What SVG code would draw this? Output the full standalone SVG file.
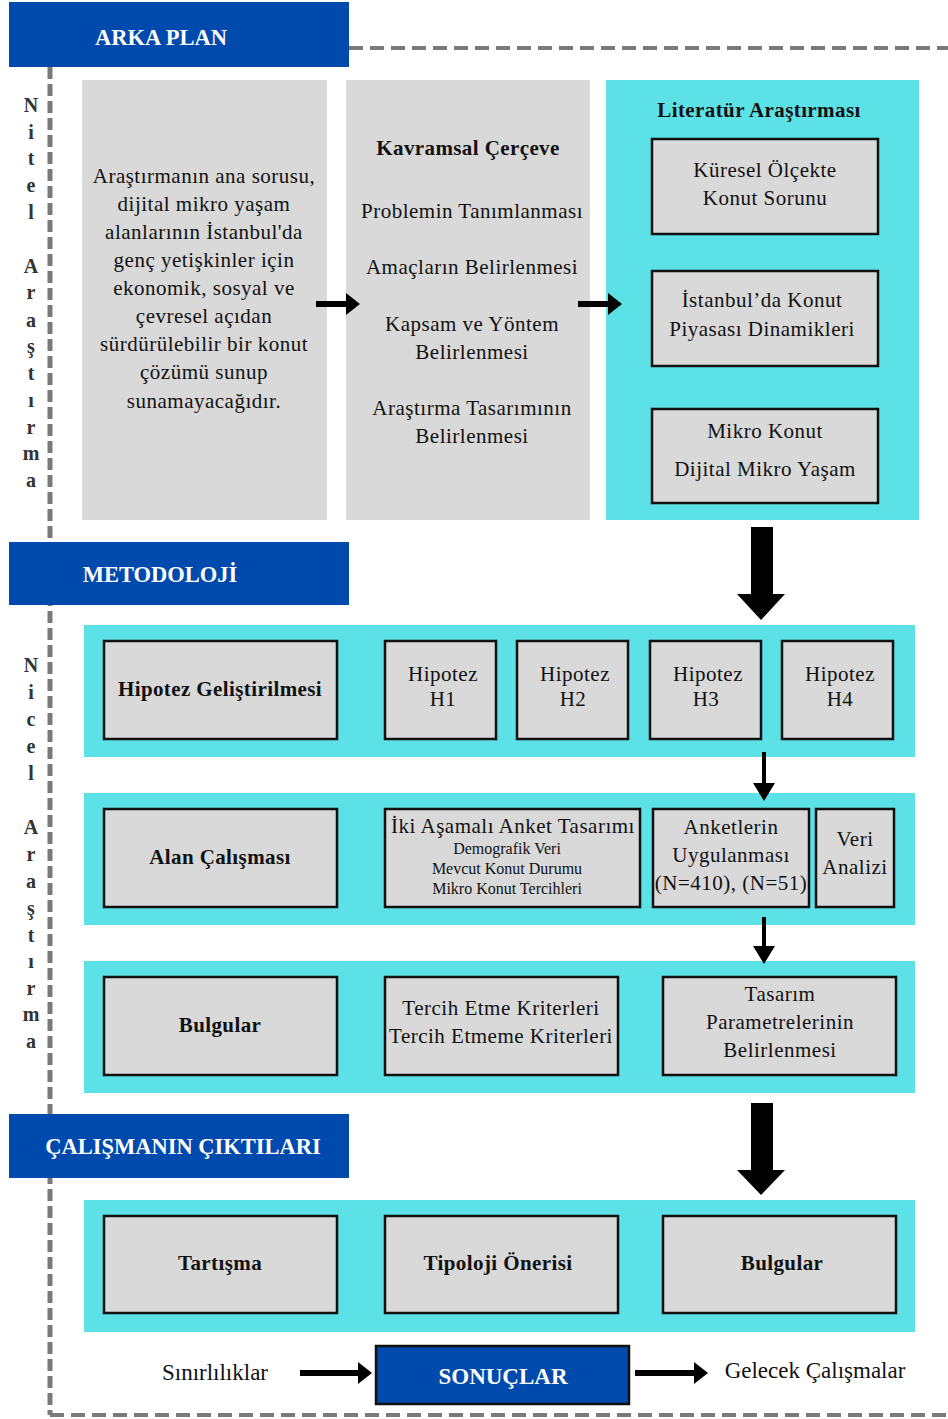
<svg xmlns="http://www.w3.org/2000/svg" width="948" height="1419" viewBox="0 0 948 1419">
<style>
text{font-family:"Liberation Serif","Times New Roman",serif;fill:#111;}
.t{font-size:21px;letter-spacing:0.5px;text-anchor:middle;dominant-baseline:central;}
.b{font-size:21px;font-weight:bold;letter-spacing:0.4px;text-anchor:middle;dominant-baseline:central;}
.s{font-size:16px;text-anchor:middle;dominant-baseline:central;}
.h{font-size:22.5px;font-weight:bold;fill:#fff;text-anchor:middle;dominant-baseline:central;}
.g{font-size:23px;text-anchor:middle;dominant-baseline:central;}
.v{font-size:20px;font-weight:bold;fill:#333;text-anchor:middle;dominant-baseline:central;}
.hdr{fill:#004aad;}
.gray{fill:#d9d9d9;}
.box{fill:#d9d9d9;stroke:#111;stroke-width:2.5;}
.cyan{fill:#5ce1e6;}
.dash{stroke:#7a7a7a;fill:none;}
.ar{fill:#000;}
</style>

<g id="frame">
<path class="dash" d="M349 48 H948" stroke-width="4" stroke-dasharray="14 7"/>
<path class="dash" d="M50 67 V1415" stroke-width="5" stroke-dasharray="12 5"/>
<path class="dash" d="M50 1415 H948" stroke-width="4" stroke-dasharray="14 7"/>
</g>

<g id="label-nitel">
<text class="v" x="31" y="105">N</text>
<text class="v" x="31" y="132">i</text>
<text class="v" x="31" y="158">t</text>
<text class="v" x="31" y="185">e</text>
<text class="v" x="31" y="212">l</text>
<text class="v" x="31" y="266">A</text>
<text class="v" x="31" y="292">r</text>
<text class="v" x="31" y="320">a</text>
<text class="v" x="31" y="346">ş</text>
<text class="v" x="31" y="373">t</text>
<text class="v" x="31" y="400">ı</text>
<text class="v" x="31" y="427">r</text>
<text class="v" x="31" y="453">m</text>
<text class="v" x="31" y="480">a</text>
</g>

<g id="label-nicel">
<text class="v" x="31" y="665">N</text>
<text class="v" x="31" y="692">i</text>
<text class="v" x="31" y="719">c</text>
<text class="v" x="31" y="746">e</text>
<text class="v" x="31" y="773">l</text>
<text class="v" x="31" y="827">A</text>
<text class="v" x="31" y="854">r</text>
<text class="v" x="31" y="881">a</text>
<text class="v" x="31" y="908">ş</text>
<text class="v" x="31" y="935">t</text>
<text class="v" x="31" y="961">ı</text>
<text class="v" x="31" y="988">r</text>
<text class="v" x="31" y="1014">m</text>
<text class="v" x="31" y="1041">a</text>
</g>

<g id="hdr-arka">
<rect class="hdr" x="9" y="2" width="340" height="65"/>
<text class="h" x="161" y="37">ARKA PLAN</text>
</g>
<g id="hdr-metodoloji">
<rect class="hdr" x="9" y="542" width="340" height="63"/>
<text class="h" x="160" y="574">METODOLOJİ</text>
</g>
<g id="hdr-ciktilar">
<rect class="hdr" x="9" y="1114" width="340" height="64"/>
<text class="h" x="183" y="1146">ÇALIŞMANIN ÇIKTILARI</text>
</g>

<g id="soru">
<rect class="gray" x="82" y="80" width="245" height="440"/>
<text class="t" x="204" y="176">Araştırmanın ana sorusu,</text>
<text class="t" x="204" y="204">dijital mikro yaşam</text>
<text class="t" x="204" y="232">alanlarının İstanbul'da</text>
<text class="t" x="204" y="260">genç yetişkinler için</text>
<text class="t" x="204" y="288">ekonomik, sosyal ve</text>
<text class="t" x="204" y="316">çevresel açıdan</text>
<text class="t" x="204" y="344">sürdürülebilir bir konut</text>
<text class="t" x="204" y="372">çözümü sunup</text>
<text class="t" x="204" y="401">sunamayacağıdır.</text>
</g>

<g id="kavramsal">
<rect class="gray" x="346" y="80" width="244" height="440"/>
<text class="b" x="468" y="148">Kavramsal Çerçeve</text>
<text class="t" x="472" y="211">Problemin Tanımlanması</text>
<text class="t" x="472" y="267">Amaçların Belirlenmesi</text>
<text class="t" x="472" y="324">Kapsam ve Yöntem</text>
<text class="t" x="472" y="352">Belirlenmesi</text>
<text class="t" x="472" y="408">Araştırma Tasarımının</text>
<text class="t" x="472" y="436">Belirlenmesi</text>
</g>

<g id="literatur">
<rect class="cyan" x="606" y="80" width="313" height="440"/>
<text class="b" x="759" y="110">Literatür Araştırması</text>
<rect class="box" x="652" y="139" width="226" height="95"/>
<text class="t" x="765" y="170">Küresel Ölçekte</text>
<text class="t" x="765" y="198">Konut Sorunu</text>
<rect class="box" x="652" y="271" width="226" height="95"/>
<text class="t" x="762" y="300">İstanbul’da Konut</text>
<text class="t" x="762" y="329">Piyasası Dinamikleri</text>
<rect class="box" x="652" y="409" width="226" height="94"/>
<text class="t" x="765" y="431">Mikro Konut</text>
<text class="t" x="765" y="469">Dijital Mikro Yaşam</text>
</g>

<g id="row-hipotez">
<rect class="cyan" x="84" y="625" width="831" height="132"/>
<rect class="box" x="104" y="641" width="233" height="98"/>
<text class="b" x="220" y="689">Hipotez Geliştirilmesi</text>
<rect class="box" x="385" y="641" width="111" height="98"/>
<text class="t" x="443" y="674">Hipotez</text>
<text class="t" x="443" y="699">H1</text>
<rect class="box" x="517" y="641" width="111" height="98"/>
<text class="t" x="575" y="674">Hipotez</text>
<text class="t" x="573" y="699">H2</text>
<rect class="box" x="650" y="641" width="111" height="98"/>
<text class="t" x="708" y="674">Hipotez</text>
<text class="t" x="706" y="699">H3</text>
<rect class="box" x="782" y="641" width="111" height="98"/>
<text class="t" x="840" y="674">Hipotez</text>
<text class="t" x="840" y="699">H4</text>
</g>

<g id="row-alan">
<rect class="cyan" x="84" y="793" width="831" height="132"/>
<rect class="box" x="104" y="809" width="233" height="98"/>
<text class="b" x="220" y="857">Alan Çalışması</text>
<rect class="box" x="385" y="809" width="255" height="98"/>
<text class="t" x="513" y="826">İki Aşamalı Anket Tasarımı</text>
<text class="s" x="507" y="848">Demografik Veri</text>
<text class="s" x="507" y="868">Mevcut Konut Durumu</text>
<text class="s" x="507" y="888">Mikro Konut Tercihleri</text>
<rect class="box" x="653" y="809" width="156" height="98"/>
<text class="t" x="731" y="827">Anketlerin</text>
<text class="t" x="731" y="855">Uygulanması</text>
<text class="t" x="731" y="883">(N=410), (N=51)</text>
<rect class="box" x="816" y="809" width="78" height="98"/>
<text class="t" x="855" y="839">Veri</text>
<text class="t" x="855" y="867">Analizi</text>
</g>

<g id="row-bulgular">
<rect class="cyan" x="84" y="961" width="831" height="132"/>
<rect class="box" x="104" y="977" width="233" height="98"/>
<text class="b" x="220" y="1025">Bulgular</text>
<rect class="box" x="385" y="977" width="233" height="98"/>
<text class="t" x="501" y="1008">Tercih Etme Kriterleri</text>
<text class="t" x="501" y="1036">Tercih Etmeme Kriterleri</text>
<rect class="box" x="663" y="977" width="233" height="98"/>
<text class="t" x="780" y="994">Tasarım</text>
<text class="t" x="780" y="1022">Parametrelerinin</text>
<text class="t" x="780" y="1050">Belirlenmesi</text>
</g>

<g id="row-ciktilar">
<rect class="cyan" x="84" y="1200" width="831" height="132"/>
<rect class="box" x="104" y="1216" width="233" height="97"/>
<text class="b" x="220" y="1263">Tartışma</text>
<rect class="box" x="385" y="1216" width="233" height="97"/>
<text class="b" x="498" y="1263">Tipoloji Önerisi</text>
<rect class="box" x="663" y="1216" width="233" height="97"/>
<text class="b" x="782" y="1263">Bulgular</text>
</g>

<g id="sonuclar">
<text class="g" x="215" y="1372">Sınırlılıklar</text>
<rect x="376" y="1346" width="253" height="58" fill="#004aad" stroke="#111" stroke-width="2.5"/>
<text class="h" x="503" y="1376" style="font-size:23px">SONUÇLAR</text>
<text class="g" x="815" y="1370">Gelecek Çalışmalar</text>
</g>

<g id="connectors">
<path class="ar" d="M316 301 H346 V293 L360 304 L346 315 V307 H316 Z"/>
<path class="ar" d="M578 301 H608 V293 L622 304 L608 315 V307 H578 Z"/>
<path class="ar" d="M751 527 H773 V594 H785 L761 620 L737 594 H751 Z"/>
<path class="ar" d="M762 752 H766 V783 H775 L764 801 L753 783 H762 Z"/>
<path class="ar" d="M762 917 H766 V946 H775 L764 964 L753 946 H762 Z"/>
<path class="ar" d="M751 1103 H773 V1170 H785 L761 1195 L737 1170 H751 Z"/>
<path class="ar" d="M300 1370 H358 V1362 L372 1373 L358 1384 V1376 H300 Z"/>
<path class="ar" d="M635 1370 H694 V1362 L708 1373 L694 1384 V1376 H635 Z"/>
</g>
</svg>
